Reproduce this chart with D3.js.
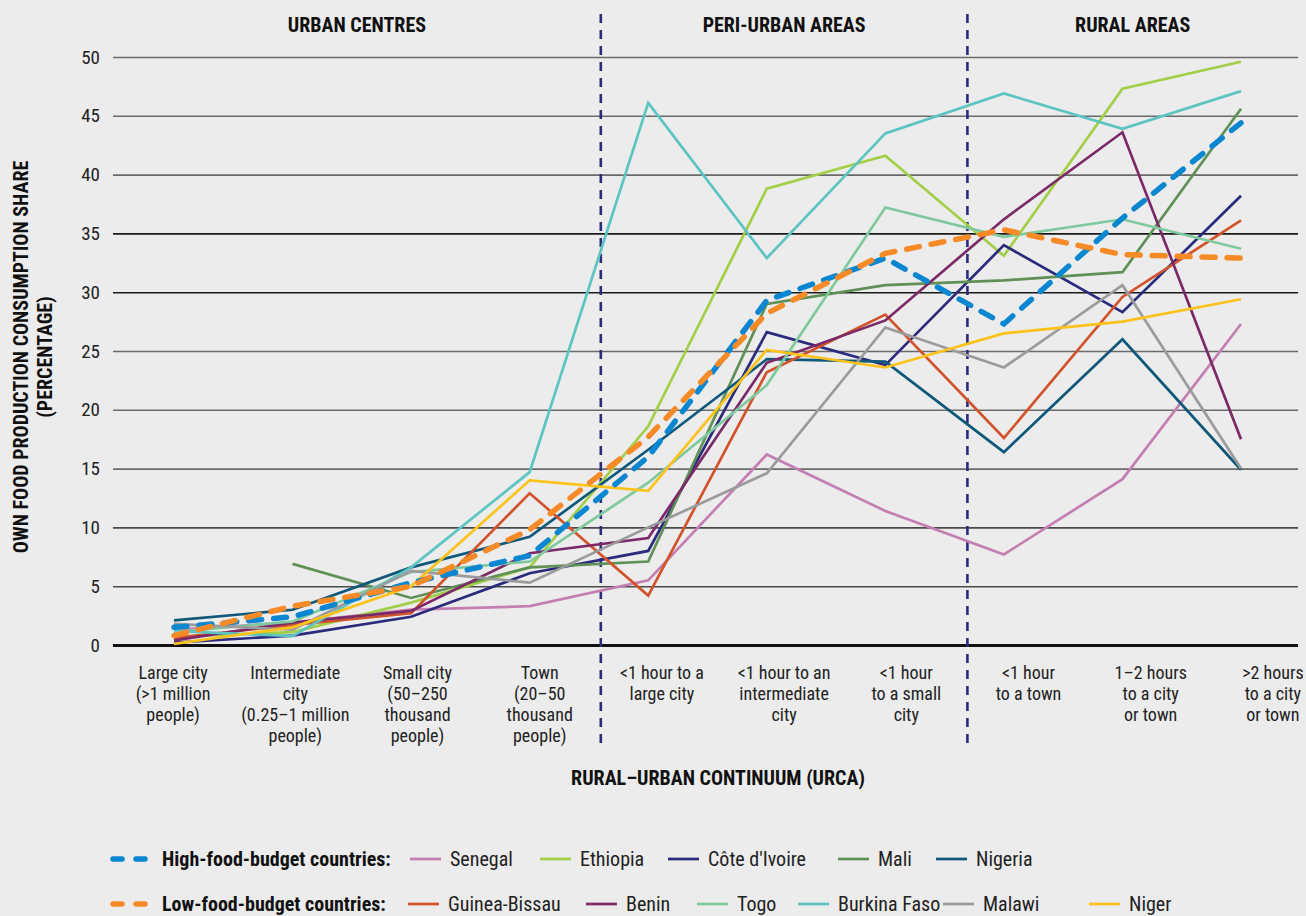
<!DOCTYPE html>
<html>
<head>
<meta charset="utf-8">
<script src="https://cdn.jsdelivr.net/npm/d3@7"></script>
<style>
  html, body { margin: 0; padding: 0; background: #ececec; }
  svg { display: block; }
</style>
</head>
<body>
<svg id="chart" width="1306" height="916"></svg>
<script>
// ---------- DATA ----------
const categories = [
  ["Large city", "(>1 million", "people)"],
  ["Intermediate", "city", "(0.25\u20131 million", "people)"],
  ["Small city", "(50\u2013250", "thousand", "people)"],
  ["Town", "(20\u201350", "thousand", "people)"],
  ["<1 hour to a", "large city"],
  ["<1 hour to an", "intermediate", "city"],
  ["<1 hour", "to a small", "city"],
  ["<1 hour", "to a town"],
  ["1\u20132 hours", "to a city", "or town"],
  [">2 hours", "to a city", "or town"]
];
const sections = ["URBAN CENTRES", "PERI-URBAN AREAS", "RURAL AREAS"];
const yTicks = [0, 5, 10, 15, 20, 25, 30, 35, 40, 45, 50];

const highBudget   = [1.5, 2.4, 5.3, 7.6, 16.0, 29.3, 32.9, 27.3, 36.3, 44.4];
const lowBudget    = [0.8, 3.3, 5.0, 9.8, 17.7, 28.2, 33.3, 35.3, 33.2, 32.9];
const senegal      = [1.3, 1.9, 3.0, 3.3, 5.5, 16.2, 11.4, 7.7, 14.1, 27.3];
const ethiopia     = [0.7, 1.1, 3.6, 6.6, 18.6, 38.8, 41.6, 33.1, 47.3, 49.6];
const coteDIvoire  = [0.2, 0.8, 2.4, 6.1, 8.0, 26.6, 23.8, 34.0, 28.3, 38.2];
const mali         = [null, 6.9, 4.0, 6.6, 7.1, 29.0, 30.6, 31.0, 31.7, 45.6];
const nigeria      = [2.1, 3.0, 6.6, 9.2, 16.6, 24.3, 24.1, 16.4, 26.0, 14.9];
const guineaBissau = [0.6, 1.7, 2.7, 12.9, 4.2, 23.2, 28.1, 17.6, 29.6, 36.1];
const benin        = [0.4, 1.9, 2.9, 7.8, 9.1, 24.0, 27.6, 36.2, 43.6, 17.5];
const togo         = [1.1, 2.0, 6.2, 7.1, 13.8, 22.1, 37.2, 34.7, 36.2, 33.7];
const burkinaFaso  = [1.2, 0.75, 6.6, 14.7, 46.1, 32.9, 43.5, 46.9, 43.9, 47.1];
const malawi       = [1.8, 1.3, 6.3, 5.3, 10.0, 14.6, 27.0, 23.6, 30.6, 15.0];
const niger        = [0.1, 1.5, 5.0, 14.0, 13.1, 25.1, 23.6, 26.5, 27.5, 29.4];

const countrySeries = [
  { name: "Senegal",       values: senegal,      color: "#c47fb2" },
  { name: "Ethiopia",      values: ethiopia,     color: "#a3cf48" },
  { name: "C\u00f4te d'Ivoire", values: coteDIvoire, color: "#2b2b7e" },
  { name: "Mali",          values: mali,         color: "#5f9056" },
  { name: "Nigeria",       values: nigeria,      color: "#10587a" },
  { name: "Guinea-Bissau", values: guineaBissau, color: "#d2532b" },
  { name: "Benin",         values: benin,        color: "#7c2968" },
  { name: "Togo",          values: togo,         color: "#7fc99e" },
  { name: "Burkina Faso",  values: burkinaFaso,  color: "#5cc5c1" },
  { name: "Malawi",        values: malawi,       color: "#9b9b9b" },
  { name: "Niger",         values: niger,        color: "#fbc21b" }
];
const groupSeries = [
  { name: "High-food-budget countries:", values: highBudget, color: "#0b86d0" },
  { name: "Low-food-budget countries:",  values: lowBudget,  color: "#f58a26" }
];
const legendRow1 = ["Senegal", "Ethiopia", "C\u00f4te d'Ivoire", "Mali", "Nigeria"];
const legendRow2 = ["Guinea-Bissau", "Benin", "Togo", "Burkina Faso", "Malawi", "Niger"];

// ---------- LAYOUT ----------
const FONT = "'Liberation Sans Narrow','Roboto Condensed','DejaVu Sans Condensed','Arial Narrow',sans-serif";
const svg = d3.select("#chart").style("font-family", FONT);
svg.append("rect").attr("width", 1306).attr("height", 916).attr("fill", "#ececec");

const catIdx = categories.map((c, i) => i);
const plotLeft = 113, plotRight = 1298;
const x = d3.scalePoint().domain(catIdx).range([174, 1241]);
const xBand = d3.scaleBand().domain(catIdx).range([112, 1334]);
const y = d3.scaleLinear().domain([0, 50]).range([645, 57]);

// grid lines
const gridColor = v => (v === 30 || v === 35) ? "#1a1a1a" : (v === 5 || v === 10 ? "#4a4a4a" : "#6a6a6a");
const yAxis = d3.axisLeft(y).tickValues(yTicks).tickSize(0).tickPadding(0);
const gAxis = svg.append("g").attr("transform", `translate(${plotLeft},0)`).call(yAxis);
gAxis.select(".domain").remove();
gAxis.selectAll(".tick text")
  .attr("x", -13).attr("font-size", 19).attr("fill", "#222").style("font-family", FONT);
gAxis.selectAll(".tick").append("line")
  .attr("x1", 0).attr("x2", plotRight - plotLeft)
  .attr("stroke", d => d === 0 ? "#111" : gridColor(d))
  .attr("stroke-width", d => d === 0 ? 3 : 1.6);

// dividers
const dividerX = [xBand(4), xBand(7)];
svg.selectAll(".divider").data(dividerX).join("line")
  .attr("x1", d => d).attr("x2", d => d)
  .attr("y1", 14).attr("y2", 746)
  .attr("stroke", "#2b2b7e").attr("stroke-width", 2.6)
  .attr("stroke-dasharray", "9,7");

// section titles
const sectionCentres = [(plotLeft + dividerX[0]) / 2, (dividerX[0] + dividerX[1]) / 2, (dividerX[1] + plotRight) / 2];
svg.selectAll(".section").data(sections).join("text")
  .attr("x", (d, i) => sectionCentres[i]).attr("y", 32)
  .attr("text-anchor", "middle").attr("font-size", 20).attr("font-weight", "bold")
  .attr("fill", "#111").text(d => d);

// x labels
const xl = svg.append("g");
categories.forEach((lines, i) => {
  const cx = xBand(i) + xBand.bandwidth() / 2;
  const t = xl.append("text").attr("x", cx).attr("y", 679)
    .attr("text-anchor", "middle").attr("font-size", 18).attr("fill", "#222");
  lines.forEach((ln, j) => t.append("tspan").attr("x", cx)
    .attr("dy", j === 0 ? 0 : 21).text(ln));
});

// axis titles
svg.append("text").attr("x", 718).attr("y", 785).attr("text-anchor", "middle")
  .attr("font-size", 20).attr("font-weight", "bold").attr("fill", "#111")
  .text("RURAL\u2013URBAN CONTINUUM (URCA)");
const yt = svg.append("text").attr("transform", "translate(0,357) rotate(-90)")
  .attr("text-anchor", "middle").attr("font-size", 20).attr("font-weight", "bold").attr("fill", "#111");
yt.append("tspan").attr("x", 0).attr("y", 28).text("OWN FOOD PRODUCTION CONSUMPTION SHARE");
yt.append("tspan").attr("x", 0).attr("y", 52).text("(PERCENTAGE)");

// lines
const line = d3.line().defined(d => d != null).x((d, i) => x(i)).y(d => y(d));
svg.append("g").selectAll("path").data(countrySeries).join("path")
  .attr("d", s => line(s.values)).attr("fill", "none")
  .attr("stroke", s => s.color).attr("stroke-width", 2.7).attr("stroke-linejoin", "miter");
svg.append("g").selectAll("path").data(groupSeries).join("path")
  .attr("d", s => line(s.values)).attr("fill", "none")
  .attr("stroke", s => s.color).attr("stroke-width", 5.5)
  .attr("stroke-dasharray", "13,12").attr("stroke-linecap", "round");

// legend
const colorOf = Object.fromEntries(countrySeries.map(s => [s.name, s.color]));
const leg = svg.append("g");
const legRows = [
  { y: 859, group: groupSeries[0], items: legendRow1, xs: [410, 540, 668, 838, 936] },
  { y: 904, group: groupSeries[1], items: legendRow2, xs: [408, 586, 697, 798, 943, 1089] }
];
legRows.forEach(r => {
  leg.append("line").attr("x1", 113).attr("x2", 150).attr("y1", r.y).attr("y2", r.y)
    .attr("stroke", r.group.color).attr("stroke-width", 5.5)
    .attr("stroke-dasharray", "9,14").attr("stroke-linecap", "round");
  leg.append("text").attr("x", 162).attr("y", r.y + 7).attr("font-size", 20)
    .attr("font-weight", "bold").attr("fill", "#111").text(r.group.name);
  r.items.forEach((name, i) => {
    leg.append("line").attr("x1", r.xs[i]).attr("x2", r.xs[i] + 31).attr("y1", r.y).attr("y2", r.y)
      .attr("stroke", colorOf[name]).attr("stroke-width", 2.7);
    leg.append("text").attr("x", r.xs[i] + 40).attr("y", r.y + 7).attr("font-size", 20)
      .attr("fill", "#222").text(name);
  });
});
</script>
</body>
</html>
